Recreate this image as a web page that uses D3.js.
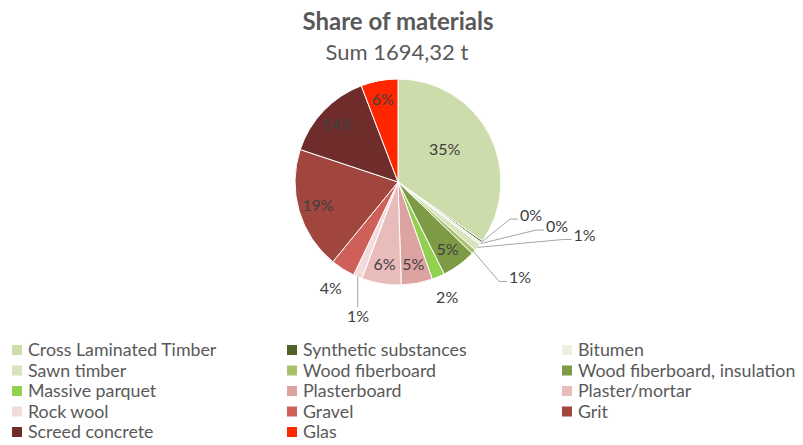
<!DOCTYPE html>
<html>
<head>
<meta charset="utf-8">
<script src="https://cdn.jsdelivr.net/npm/d3@7"></script>
<style>
  body { margin: 0; background: #fff; }
  svg { font-family: Lato, "Open Sans", sans-serif; }
</style>
</head>
<body>
<div id="chart"></div>
<script>
// materials, clockwise from 12 o'clock
const materials = [
  'Cross Laminated Timber', 'Synthetic substances', 'Bitumen', 'Sawn timber',
  'Wood fiberboard', 'Wood fiberboard, insulation', 'Massive parquet', 'Plasterboard',
  'Plaster/mortar', 'Rock wool', 'Gravel', 'Grit', 'Screed concrete', 'Glas'
];
// tonnes (total 1694,32 t)
const tonnes = [587.9, 5.1, 6.8, 18.6, 11.9, 91.5, 33.9, 83.0, 105.0, 23.7, 64.4, 325.3, 238.9, 98.3];
const colours = [
  '#cddcab', '#4f6228', '#ebf1de', '#d7e4bd', '#a8c26a', '#7d9a45', '#92d050',
  '#dca3a1', '#e8bcbb', '#f2dcdb', '#cf5f59', '#a1453f', '#6e2c2a', '#ff2600'
];
const title = 'Share of materials';
const subtitle = 'Sum 1694,32 t';

// callout labels for tiny slices: angle (deg, clockwise from top) and radius of label centre
const callouts = {
  'Synthetic substances': { a: 104, r: 137 },
  'Bitumen': { a: 105.5, r: 165 },
  'Sawn timber': { a: 106, r: 194 },
  'Wood fiberboard': { a: 128, r: 155 },
  'Rock wool': { a: 196.6, r: 140 }
};

const W = 803, H = 445;
const cx = 398, cy = 182, R = 103;
const textCol = '#595959', labelCol = '#404040';

const svg = d3.select('#chart').append('svg')
  .attr('width', W).attr('height', H);

svg.append('text')
  .attr('x', 398).attr('y', 30)
  .attr('text-anchor', 'middle')
  .style('font-size', '24px').style('font-weight', 'bold')
  .style('fill', textCol)
  .text(title);

svg.append('text')
  .attr('x', 397).attr('y', 60)
  .attr('text-anchor', 'middle')
  .style('font-size', '22px')
  .style('fill', textCol)
  .text(subtitle);

const total = d3.sum(tonnes);
const pie = d3.pie().sort(null).value(d => d.v);
const arcs = pie(materials.map((m, i) => ({ name: m, v: tonnes[i], c: colours[i] })));
const arc = d3.arc().innerRadius(0).outerRadius(R);

const g = svg.append('g').attr('transform', `translate(${cx},${cy})`);

g.selectAll('path.slice')
  .data(arcs)
  .join('path')
  .attr('class', 'slice')
  .attr('d', arc)
  .attr('fill', d => d.data.c)
  .attr('stroke', '#fff')
  .attr('stroke-width', 1);

const polar = (deg, r) => {
  const t = deg * Math.PI / 180;
  return [r * Math.sin(t), -r * Math.cos(t)];
};
const pct = d => Math.round(d.data.v / total * 100) + '%';

arcs.forEach(d => {
  const mid = (d.startAngle + d.endAngle) / 2 * 180 / Math.PI;
  const share = d.data.v / total;
  const co = callouts[d.data.name];
  let p;
  if (co) {
    p = polar(co.a, co.r);
  } else if (share < 0.03 || d.data.name === 'Gravel') {
    p = polar(mid, R * 1.22);
  } else if (share > 0.3) {
    p = polar(mid - 7, R * 0.55);
  } else {
    p = polar(mid, R * 0.81);
  }
  const t = g.append('text')
    .attr('x', p[0]).attr('y', p[1] + 5.5)
    .attr('text-anchor', 'middle')
    .style('font-size', '16px')
    .style('fill', labelCol)
    .text(pct(d));

  if (co) {
    const e = polar(mid, R);
    const w = t.node().getComputedTextLength();
    let pts;
    if (Math.abs(p[0] - e[0]) < 10) {
      pts = [e, [e[0], p[1] - 9]];
    } else {
      const ly = p[1] + 4;
      pts = [e, [p[0] - w / 2 - 10, ly], [p[0] - w / 2 - 2, ly]];
    }
    g.append('path')
      .attr('d', d3.line()(pts))
      .attr('fill', 'none')
      .attr('stroke', '#a6a6a6')
      .attr('stroke-width', 1);
  }
});

// legend, 3 columns, row-major
const legX = [12, 287, 562];
const legY0 = 350, legStep = 20.5;
const leg = svg.append('g');
materials.forEach((m, i) => {
  const col = i % 3, row = Math.floor(i / 3);
  const x = legX[col], y = legY0 + row * legStep;
  leg.append('rect')
    .attr('x', x).attr('y', y - 5)
    .attr('width', 10).attr('height', 10)
    .attr('fill', colours[i]);
  leg.append('text')
    .attr('x', x + 16).attr('y', y + 6)
    .style('font-size', '17.8px')
    .style('fill', textCol)
    .text(m);
});
</script>
</body>
</html>
